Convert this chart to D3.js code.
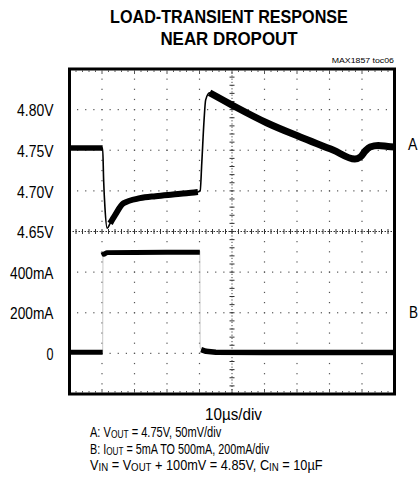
<!DOCTYPE html>
<html><head><meta charset="utf-8">
<script src="https://cdn.jsdelivr.net/npm/d3@7"></script>
<style>body{margin:0;background:#fff} svg{display:block}</style>
</head><body>
<svg id="c" width="419" height="492"></svg>
<script>
// ---------- data ----------
const titleLines = ["LOAD-TRANSIENT RESPONSE", "NEAR DROPOUT"];
const chartId = "MAX1857 toc06";
const voltTicks = [4.80, 4.75, 4.70, 4.65];
const voltTickLabels = ["4.80V", "4.75V", "4.70V", "4.65V"];
const currTicks = [400, 200, 0];
const currTickLabels = ["400mA", "200mA", "0"];
const timeLabel = "10µs/div";
// trace A: output voltage (time in µs, volts)
const traceA_t = [0, 10.2, 10.5, 10.9, 11.6, 12.5, 14.0, 16.6, 21.7, 26.5, 31.8, 36.0, 39.5, 40.2, 40.7, 41.4, 41.9, 43.1, 44.8, 50.3, 60.8, 71.0, 81.1, 87.8, 89.5, 91.0, 92.5, 95.0, 98.0, 100];
const traceA_v = [4.7528, 4.7528, 4.7134, 4.680, 4.654, 4.660, 4.670, 4.6847, 4.691, 4.6935, 4.6955, 4.697, 4.6986, 4.700, 4.734, 4.787, 4.812, 4.8208, 4.817, 4.805, 4.7835, 4.7663, 4.7503, 4.7392, 4.7417, 4.749, 4.754, 4.7558, 4.7546, 4.7540];
// trace B: load current (time in µs, mA)
const traceB_t = [0, 10.2, 10.3, 10.6, 11.5, 20, 30, 40.1, 40.2, 40.5, 42, 45, 60, 80, 100];
const traceB_i = [5, 5, 500, 488, 496, 497, 498, 498, 30, 18, 10, 5, 4, 4, 4];
const traceLabels = ["A", "B"];
const noteLines = [
  [["A: V", 0], ["OUT", 1], [" = 4.75V, 50mV/div", 0]],
  [["B: I", 0], ["OUT", 1], [" = 5mA TO 500mA, 200mA/div", 0]],
  [["V", 0], ["IN", 1], [" = V", 0], ["OUT", 1], [" + 100mV = 4.85V, C", 0], ["IN", 1], [" = 10µF", 0]]
];

// ---------- layout ----------
const FONT = "'Liberation Sans Narrow','Liberation Sans',Arial,sans-serif";
const svg = d3.select("#c");
const x0 = 69.5, x1 = 394.5, y0 = 69, y1 = 394;
const xDiv = d3.scaleLinear([0, 10], [x0, x1]);
const yDiv = d3.scaleLinear([0, 8], [y0, y1]);
const xT = d3.scaleLinear([0, 100], [x0, x1]);
const yV = d3.scaleLinear([4.85, 4.45], [y0, y1]);
const yI = d3.scaleLinear([1400, -200], [y0, y1]);

function fit(sel, w, ax) {
  sel.each(function () {
    const bw = this.getBBox().width;
    if (bw > 0) {
      const s = w / bw;
      d3.select(this).attr("transform", `translate(${ax},0) scale(${s},1) translate(${-ax},0)`);
    }
  });
}

// ---------- grid ----------
const grid = svg.append("g");
const dotC = "#555";
[1, 2, 3, 5, 6, 7].forEach(r => {
  const yy = yDiv(r);
  grid.selectAll(null).data(d3.range(1, 40)).enter().append("rect")
    .attr("x", k => xDiv(k * 0.25) - 0.6).attr("y", yy - 0.6)
    .attr("width", 1.2).attr("height", 1.2).attr("fill", dotC);
});
[1, 2, 3, 4, 6, 7, 8, 9].forEach(c => {
  const xx = xDiv(c);
  grid.selectAll(null).data(d3.range(1, 32)).enter().append("rect")
    .attr("x", xx - 0.6).attr("y", k => yDiv(k * 0.25) - 0.6)
    .attr("width", 1.2).attr("height", 1.2).attr("fill", dotC);
});
// center axes
grid.append("line").attr("x1", x0).attr("x2", x1).attr("y1", yDiv(4)).attr("y2", yDiv(4))
  .attr("stroke", "#333").attr("stroke-width", 1).attr("stroke-dasharray", "1.5,1.5");
grid.append("line").attr("y1", y0).attr("y2", y1).attr("x1", xDiv(5)).attr("x2", xDiv(5))
  .attr("stroke", "#444").attr("stroke-width", 1).attr("stroke-dasharray", "1.2,2");
grid.selectAll(null).data(d3.range(1, 50)).enter().append("line")
  .attr("x1", k => xDiv(k * 0.2)).attr("x2", k => xDiv(k * 0.2))
  .attr("y1", yDiv(4) - 2.5).attr("y2", yDiv(4) + 2.5).attr("stroke", "#333").attr("stroke-width", 1);
grid.selectAll(null).data(d3.range(1, 40)).enter().append("line")
  .attr("y1", k => yDiv(k * 0.2)).attr("y2", k => yDiv(k * 0.2))
  .attr("x1", xDiv(5) - 2.5).attr("x2", xDiv(5) + 2.5).attr("stroke", "#333").attr("stroke-width", 1);
// border ticks top / bottom
grid.selectAll(null).data(d3.range(1, 50)).enter().append("line")
  .attr("x1", k => xDiv(k * 0.2)).attr("x2", k => xDiv(k * 0.2))
  .attr("y1", y0 + 1.5).attr("y2", k => y0 + (k % 5 === 0 ? 5 : 3)).attr("stroke", dotC).attr("stroke-width", 1);
grid.selectAll(null).data(d3.range(1, 50)).enter().append("line")
  .attr("x1", k => xDiv(k * 0.2)).attr("x2", k => xDiv(k * 0.2))
  .attr("y1", y1 - 1.5).attr("y2", k => y1 - (k % 5 === 0 ? 5 : 3)).attr("stroke", dotC).attr("stroke-width", 1);

// ---------- traces ----------
const dataA = traceA_t.map((t, i) => ({ t, v: traceA_v[i] }));
const dataB = traceB_t.map((t, i) => ({ t, v: traceB_i[i] }));
const lineA = d3.line().x(d => xT(d.t)).y(d => yV(d.v)).curve(d3.curveMonotoneX);
const lineB = d3.line().x(d => xT(d.t)).y(d => yI(d.v)).curve(d3.curveLinear);
const tr = svg.append("g").attr("fill", "none").attr("stroke", "#000").attr("stroke-linejoin", "round");
tr.append("path").attr("d", lineA(dataA)).attr("stroke-width", 1.6);
[[0, 10.2, 5.5], [12.5, 40.0, 6], [42.6, 100, 7]].forEach(([a, b, w]) => {
  tr.append("path").attr("d", lineA(dataA.filter(d => d.t >= a && d.t <= b))).attr("stroke-width", w);
});
tr.append("path").attr("d", lineB(dataB)).attr("stroke-width", 0.8).attr("stroke", "#bbb");
[[0, 10.2, 5], [10.3, 40.1, 5], [40.5, 100, 5.5]].forEach(([a, b, w]) => {
  tr.append("path").attr("d", lineB(dataB.filter(d => d.t >= a && d.t <= b))).attr("stroke-width", w);
});

// ---------- frame ----------
svg.append("rect").attr("x", x0).attr("y", y0).attr("width", x1 - x0).attr("height", y1 - y0)
  .attr("fill", "none").attr("stroke", "#000").attr("stroke-width", 3);

// ---------- axes (labels) ----------
const axV = svg.append("g").attr("transform", "translate(53.5,0)")
  .call(d3.axisLeft(yV).tickValues(voltTicks).tickSize(0).tickPadding(0)
    .tickFormat((d, i) => voltTickLabels[i]));
const axI = svg.append("g").attr("transform", "translate(53.5,0)")
  .call(d3.axisLeft(yI).tickValues(currTicks).tickSize(0).tickPadding(0)
    .tickFormat((d, i) => currTickLabels[i]));
[axV, axI].forEach(ax => {
  ax.select(".domain").remove();
  ax.selectAll("text").attr("font-family", FONT).attr("font-size", 17).attr("fill", "#000").attr("dy", "0.36em");
});
axV.selectAll("text").each(function () { fit(d3.select(this), 37, 0); });
axI.selectAll("text").each(function (d) { fit(d3.select(this), d === 0 ? 7 : 44, 0); });

// ---------- titles & labels ----------
const tg = svg.append("g").attr("font-family", FONT).attr("fill", "#000");
titleLines.forEach((s, i) => {
  const t = tg.append("text").attr("x", 229).attr("y", i === 0 ? 23 : 45).attr("text-anchor", "middle")
    .attr("font-weight", "bold").attr("font-size", 18.5).text(s);
  fit(t, i === 0 ? 238 : 138, 229);
});
fit(tg.append("text").attr("x", 394).attr("y", 63).attr("text-anchor", "end").attr("font-size", 8).text(chartId), 63, 394);
fit(tg.append("text").attr("x", 408).attr("y", 150).attr("font-size", 17).text(traceLabels[0]), 10, 408);
fit(tg.append("text").attr("x", 409).attr("y", 318).attr("font-size", 17).text(traceLabels[1]), 9, 409);
fit(tg.append("text").attr("x", 233.5).attr("y", 420).attr("text-anchor", "middle").attr("font-size", 16).text(timeLabel), 57, 233.5);
const noteW = [132, 180, 233];
noteLines.forEach((parts, i) => {
  const t = tg.append("text").attr("x", 90).attr("y", 437.5 + i * 16.5).attr("font-size", 14.5);
  parts.forEach(([s, sub], j) => {
    const prev = j > 0 && parts[j - 1][1];
    const ts = t.append("tspan").text(s)
      .attr("dy", sub && !prev ? 1 : (!sub && prev ? -1 : 0));
    if (sub) ts.attr("font-size", 11);
  });
  fit(t, noteW[i], 90);
});
</script>
</body></html>
